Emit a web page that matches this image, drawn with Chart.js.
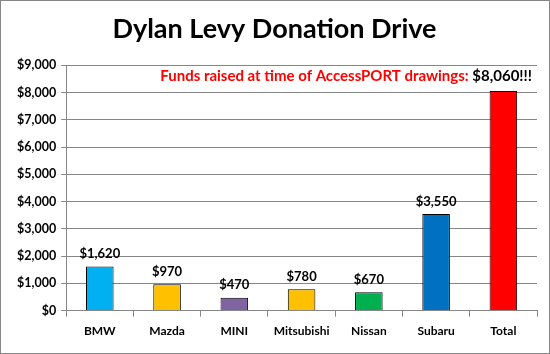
<!DOCTYPE html>
<html>
<head>
<meta charset="utf-8">
<script src="https://cdn.jsdelivr.net/npm/chart.js@4"></script>
<style>
  html, body { margin: 0; padding: 0; background: #fff; }
  #wrap { width: 550px; height: 354px; }
</style>
</head>
<body>
<div id="wrap"><canvas id="chart" width="550" height="354"></canvas></div>
<script>
// chart data
const categories = ['BMW', 'Mazda', 'MINI', 'Mitsubishi', 'Nissan', 'Subaru', 'Total'];
const donations = [1620, 970, 470, 780, 670, 3550, 8060];
const barColors = ['#00B0F0', '#FFC000', '#8064A2', '#FFC000', '#00B050', '#0070C0', '#FF0000'];
const yTicks = [0, 1000, 2000, 3000, 4000, 5000, 6000, 7000, 8000, 9000];

const fontFamily = 'Lato, "Open Sans", sans-serif';
const money = v => '$' + v.toLocaleString('en-US');

// value labels above each bar + the red note at the top
const labelPlugin = {
    id: 'labels',
    afterDatasetsDraw(chart) {
        const ctx = chart.ctx;
        const meta = chart.getDatasetMeta(0);
        ctx.save();
        ctx.font = 'bold 13px ' + fontFamily;
        ctx.fillStyle = '#000';
        ctx.textAlign = 'center';
        ctx.textBaseline = 'bottom';
        meta.data.forEach((bar, i) => {
            if (i === meta.data.length - 1) return;
            ctx.fillText(money(donations[i]), bar.x, bar.y - 6);
        });

        // note with the total
        const area = chart.chartArea;
        const total = money(donations[donations.length - 1]) + '!!!';
        ctx.font = 'bold 15px ' + fontFamily;
        ctx.textAlign = 'right';
        ctx.textBaseline = 'middle';
        const y = chart.scales.y.getPixelForValue(8620);
        const right = area.right - 5;
        ctx.fillText(total, right, y);
        const w = ctx.measureText(total + ' ').width;
        ctx.fillStyle = '#FF0000';
        ctx.fillText('Funds raised at time of AccessPORT drawings:', right - w, y);
        ctx.restore();
    }
};

const framePlugin = {
    id: 'frame',
    afterDraw(chart) {
        const ctx = chart.ctx;
        ctx.save();
        ctx.strokeStyle = '#868686';
        ctx.lineWidth = 1;
        ctx.strokeRect(0.5, 0.5, chart.width - 1, chart.height - 1);
        ctx.restore();
    }
};

new Chart(document.getElementById('chart'), {
    type: 'bar',
    data: {
        labels: categories,
        datasets: [{
            data: donations,
            backgroundColor: barColors,
            borderColor: '#000',
            borderWidth: 1,
            categoryPercentage: 1,
            barPercentage: 0.41
        }]
    },
    options: {
        responsive: false,
        animation: false,
        layout: { padding: { left: 12, right: 13, top: 0, bottom: 9 } },
        plugins: {
            legend: { display: false },
            tooltip: { enabled: false },
            title: {
                display: true,
                text: 'Dylan Levy Donation Drive',
                color: '#000',
                font: { family: fontFamily, size: 27, weight: 'bold' },
                padding: { top: 13, bottom: 20 }
            }
        },
        scales: {
            x: {
                grid: { drawOnChartArea: false, offset: true, tickLength: 6, color: '#868686' },
                border: { color: '#868686' },
                ticks: { color: '#000', font: { family: fontFamily, size: 12, weight: 'bold' }, padding: 7 }
            },
            y: {
                min: 0,
                max: 9000,
                afterBuildTicks(scale) {
                    scale.ticks = yTicks.map(v => ({ value: v }));
                },
                grid: { color: '#868686', tickLength: 5 },
                border: { color: '#868686' },
                ticks: {
                    color: '#000',
                    font: { family: fontFamily, size: 12.5, weight: 'bold' },
                    padding: 5,
                    callback: v => money(v)
                }
            }
        }
    },
    plugins: [labelPlugin, framePlugin]
});
</script>
</body>
</html>
